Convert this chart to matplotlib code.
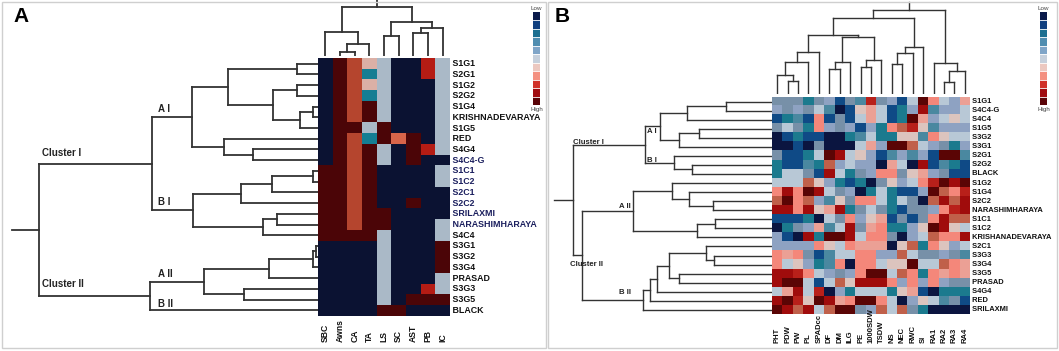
import numpy as np
import matplotlib
matplotlib.use("Agg")
import matplotlib.pyplot as plt
from matplotlib.colors import ListedColormap
from matplotlib.collections import LineCollection
from matplotlib.patches import Rectangle
import matplotlib.transforms as mtransforms

# ---------------- data: panel A (morphological traits) ----------------
a_rows = ["S1G1", "S2G1", "S1G2", "S2G2", "S1G4", "KRISHNADEVARAYA", "S1G5", "RED",
          "S4G4", "S4C4-G", "S1C1", "S1C2", "S2C1", "S2C2", "SRILAXMI", "NARASHIMHARAYA",
          "S4C4", "S3G1", "S3G2", "S3G4", "PRASAD", "S3G3", "S3G5", "BLACK"]
a_cols = ["SBC", "Awns", "CA", "TA", "LS", "SC", "AST", "PB", "IC"]
# n navy, d dark red, c brick, t teal, p pink, g grey-blue, r red, s salmon
a_cells = ["ndcpgnnrg", "ndctgnnrg", "ndcpgnnng", "ndctgnnng", "ndcdgnnng", "ndcdgnnng",
           "nddgdnnng", "ndctdsdng", "ndcdgndrg", "ndcdgndnn", "ddcdnnnng", "ddcdnnnng",
           "ddcdnnnnn", "ddcdnndnn", "ddcddnnnn", "ddcddnnng", "ddddgnnng", "nnnngnnnd",
           "nnnngnnnd", "nnnngnnnd", "nnnngnnng", "nnnngnnrg", "nnnngnddd", "nnnnddnnn"]
a_codes = "ndctpgrs"
a_palette = ["#0b1232", "#4b0507", "#b5452e", "#157e93", "#dbb0a6", "#aab9c7", "#b51c14", "#d8654a"]

# merge trees: (left, right, distance)
a_col_tree = (("SBC", (("Awns", "CA", 3.6), "TA", 12), 24),
              (("LS", "SC", 20.5), (("AST", "PB", 23), "IC", 28), 34), 49)
a_clusterI = (((("S1G1", "S2G1", 21.3),
                (("S1G2", "S2G2", 21.3), (("S1G4", "KRISHNADEVARAYA", 4.7), "S1G5", 18), 44.7), 89.7),
               ("RED", ("S4G4", "S4C4-G", 64.7), 94), 126.3),
              (((("S1C1", "S1C2", 4.7), "S2C1", 46.3), "S2C2", 77.3),
               (("SRILAXMI", "NARASHIMHARAYA", 41.3), "S4C4", 54.7), 125.3), 166.3)
a_clusterII = ((((("S3G1", "S3G2", 2), "S3G4", 5), "PRASAD", 48.7), ("S3G3", "S3G5", 73.7), 114),
               "BLACK", 168)
a_row_tree = (a_clusterI, a_clusterII, 278.7)
a_root_stub = 306

# ---------------- data: panel B (physiological traits) ----------------
b_rows = ["S1G1", "S4C4-G", "S4C4", "S1G5", "S3G2", "S3G1", "S2G1", "S2G2", "BLACK", "S1G2",
          "S1G4", "S2C2", "NARASHIMHARAYA", "S1C1", "S1C2", "KRISHANADEVARAYA", "S2C1", "S3G3",
          "S3G4", "S3G5", "PRASAD", "S4G4", "RED", "SRILAXMI"]
b_cols = ["PHT", "PDW", "PW", "PL", "SPADcc", "DF", "DM", "ILG", "PE", "1000SDW", "TSDW",
          "NS", "NEC", "RWC", "SI", "RA1", "RA2", "RA3", "RA4"]
# levels 0 (low) .. 13 (high)
b_values = [
    [4, 4, 4, 2, 4, 5, 1, 4, 3, 11, 4, 5, 1, 6, 13, 9, 6, 5, 8],
    [5, 4, 5, 4, 6, 3, 0, 1, 7, 8, 6, 1, 2, 5, 12, 3, 5, 5, 6],
    [1, 2, 3, 1, 9, 1, 4, 1, 6, 8, 6, 1, 2, 13, 8, 5, 6, 7, 6],
    [4, 6, 4, 2, 9, 5, 4, 5, 1, 5, 2, 9, 10, 11, 7, 3, 5, 5, 5],
    [0, 1, 2, 1, 1, 0, 0, 2, 3, 6, 2, 2, 7, 7, 3, 9, 7, 6, 6],
    [0, 0, 1, 0, 4, 0, 0, 0, 6, 8, 5, 13, 13, 10, 6, 5, 4, 2, 5],
    [4, 1, 1, 2, 6, 13, 12, 6, 7, 5, 1, 3, 5, 3, 5, 1, 13, 13, 3],
    [2, 1, 1, 3, 2, 10, 5, 6, 5, 5, 0, 8, 6, 0, 12, 1, 3, 2, 1],
    [2, 6, 6, 4, 1, 12, 6, 2, 4, 5, 9, 9, 4, 7, 8, 5, 4, 1, 1],
    [6, 6, 6, 10, 7, 5, 2, 1, 2, 0, 4, 7, 5, 6, 9, 11, 13, 12, 13],
    [9, 12, 9, 13, 12, 6, 4, 5, 0, 2, 6, 2, 1, 1, 5, 13, 10, 9, 11],
    [10, 13, 9, 10, 5, 3, 7, 4, 9, 9, 6, 2, 6, 4, 0, 10, 12, 10, 12],
    [12, 12, 9, 12, 7, 8, 12, 2, 4, 6, 4, 2, 1, 4, 4, 5, 9, 11, 12],
    [1, 1, 1, 2, 0, 6, 4, 9, 5, 7, 8, 1, 4, 1, 4, 9, 12, 10, 10],
    [0, 2, 4, 5, 8, 3, 6, 12, 4, 8, 9, 2, 2, 5, 7, 13, 12, 7, 6],
    [5, 1, 0, 12, 2, 13, 13, 12, 6, 9, 9, 4, 0, 5, 6, 10, 9, 9, 12],
    [5, 5, 5, 5, 9, 7, 6, 9, 8, 8, 8, 0, 7, 10, 2, 9, 7, 5, 6],
    [9, 8, 9, 4, 1, 3, 6, 6, 9, 9, 5, 5, 10, 6, 4, 4, 5, 4, 3],
    [9, 6, 7, 5, 2, 3, 9, 0, 9, 9, 6, 7, 7, 13, 6, 6, 10, 9, 8],
    [12, 12, 11, 9, 6, 5, 4, 5, 9, 13, 13, 6, 10, 9, 2, 9, 8, 9, 8],
    [12, 13, 13, 6, 1, 6, 10, 7, 12, 12, 12, 9, 5, 9, 5, 9, 5, 4, 4],
    [6, 8, 12, 6, 11, 0, 5, 2, 6, 6, 6, 2, 7, 8, 1, 0, 2, 2, 2],
    [12, 13, 11, 7, 13, 12, 8, 9, 13, 13, 9, 6, 0, 5, 7, 6, 3, 4, 1],
    [13, 12, 10, 12, 6, 10, 13, 13, 4, 5, 10, 6, 10, 4, 2, 0, 0, 0, 0],
]
b_palette = ["#0b1540", "#0f4a86", "#1b7a8e", "#4a88a0", "#7790a8", "#8ea2c2", "#b8c8d6",
             "#dcc4be", "#eba095", "#f4877a", "#c0604a", "#b8201a", "#a00c0c", "#5a0505"]

b_col_tree = ((((("PHT", ("PDW", "PW", 13), 19), "PL", 32.3), "SPADcc", 42.3),
               ((("DF", "DM", 25), "ILG", 32.3), (("PE", "1000SDW", 27.3), "TSDW", 34), 56.7), 59),
              ((("NS", "NEC", 30), "RWC", 40.7), "SI", 47.3), 75.7)
b_col_tree = (b_col_tree, ("RA1", (("RA2", "RA3", 12.3), "RA4", 23.3), 31.3), 84)
b_clusterI = (((("S1G1", "S4C4-G", 46), "S4C4", 84.8), (("S1G5", "S3G2", 73), "S3G1", 93.3), 112),
              ("S2G1", ("S2G2", "BLACK", 79.7), 98.3), 127)
b_clusterII = ((("S1G2", ("S1G4", ("S2C2", "NARASHIMHARAYA", 59.4), 83), 100),
                (("S1C1", "S1C2", 57), "KRISHANADEVARAYA", 75), 139),
               ((((("S2C1", ("S3G3", "S3G4", 58), 66), ("S3G5", "PRASAD", 93), 103), "S4G4", 115),
                 "RED", 122), "SRILAXMI", 128.7), 189.6)
b_row_tree = (b_clusterI, b_clusterII, 198.7)
b_root_stub = 218.3

scale_colors = ["#0a1a4a", "#0f3f7f", "#1c6f90", "#4f8db0", "#7fa5c8", "#c6d0dc",
                "#ecc8c0", "#f49080", "#d03028", "#a00c10", "#5a0408"]

# ---------------- helpers ----------------
W, H = 1059, 351
LINE = "#333333"
plt.rcParams["font.family"] = ["Liberation Sans", "DejaVu Sans"]

fig = plt.figure(figsize=(W / 100, H / 100), dpi=100)


def px_axes(x0, y0, x1, y1):
    ax = fig.add_axes([x0 / W, 1 - y1 / H, (x1 - x0) / W, (y1 - y0) / H])
    ax.set_axis_off()
    return ax


def ftext(x, y, s, **kw):
    fig.text(x / W, 1 - y / H, s, **kw)


def tree_segments(node, order):
    # returns leaf-axis position, height, list of segments (pos, height)
    if isinstance(node, str):
        return order.index(node), 0.0, []
    left, right, h = node
    pa, ha, sa = tree_segments(left, order)
    pb, hb, sb = tree_segments(right, order)
    segs = sa + sb + [[(pa, ha), (pa, h)], [(pa, h), (pb, h)], [(pb, h), (pb, hb)]]
    return (pa + pb) / 2, h, segs


def draw_row_dendro(ax, tree, order, stub, lw):
    pos, h, segs = tree_segments(tree, order)
    segs.append([(pos, h), (pos, stub)])
    segs = [[(b, a) for a, b in s] for s in segs]
    ax.add_collection(LineCollection(segs, colors=LINE, linewidths=lw, capstyle="projecting"))
    ax.set_ylim(len(order) - 0.5, -0.5)


def draw_col_dendro(ax, tree, order, stub, lw):
    pos, h, segs = tree_segments(tree, order)
    segs.append([(pos, h), (pos, stub)])
    ax.add_collection(LineCollection(segs, colors=LINE, linewidths=lw, capstyle="projecting"))
    ax.set_xlim(-0.5, len(order) - 0.5)


def draw_scale(x0, x1, y0, y1):
    ax = px_axes(x0, y0, x1, y1)
    ax.imshow(np.arange(len(scale_colors)).reshape(-1, 1), cmap=ListedColormap(scale_colors),
              aspect="auto", interpolation="nearest")
    for k in range(len(scale_colors) - 1):
        ax.axhline(k + 0.5, color="white", lw=0.6)
    ftext((x0 + x1) / 2, y0 - 4, "Low", fontsize=4.5, ha="center", va="center", color="#444444")
    ftext((x0 + x1) / 2, y1 + 4, "High", fontsize=4.5, ha="center", va="center", color="#444444")


# panel frames
for x0, x1 in [(2, 546), (548, 1057)]:
    fig.patches.append(Rectangle((x0 / W, 1 - 348 / H), (x1 - x0) / W, 346 / H,
                                 transform=fig.transFigure, fill=False, ec="#cfcfcf", lw=1))

# ---------------- panel A ----------------
hA = px_axes(318, 58.3, 450, 315.7)
a_idx = np.array([[a_codes.index(c) for c in row] for row in a_cells])
hA.imshow(a_idx, cmap=ListedColormap(a_palette), vmin=-0.5, vmax=len(a_palette) - 0.5,
          aspect="auto", interpolation="nearest")
for i, name in enumerate(a_rows):
    col = "#1b1f5e" if 9 <= i <= 15 else "#111111"
    hA.text(1.0, 1 - (i + 0.5) / len(a_rows), " " + name, transform=hA.transAxes,
            fontsize=6.4, fontweight="bold", color=col, va="center", ha="left", clip_on=False)
trA_col = mtransforms.blended_transform_factory(hA.transData, fig.transFigure)
for j, name in enumerate(a_cols):
    hA.text(j, 1 - 342 / H, name, transform=trA_col, rotation=90, fontsize=6.2,
            fontweight="bold", ha="center", va="bottom", color="#111111")

dA = px_axes(0, 58.3, 318, 315.7)
draw_row_dendro(dA, a_row_tree, a_rows, a_root_stub, 1.3)
dA.set_xlim(318, 0)

tA = px_axes(318, 0, 450, 56)
draw_col_dendro(tA, a_col_tree, a_cols, 56, 1.3)
tA.set_ylim(0, 56)

for s, x, y in [("A I", 158, 109.5), ("B I", 158, 202), ("Cluster I", 41.5, 153),
                ("Cluster II", 41.5, 284), ("A II", 158, 274), ("B II", 158, 304)]:
    ftext(x, y, s, fontsize=7, fontweight="bold", ha="left", va="center", color="#222222")
ftext(13, 17, "A", fontsize=15, fontweight="bold", ha="left", va="center")
draw_scale(533, 540, 12, 105)

# ---------------- panel B ----------------
hB = px_axes(772, 97, 970, 314.4)
hB.imshow(np.array(b_values), cmap=ListedColormap(b_palette), vmin=-0.5,
          vmax=len(b_palette) - 0.5, aspect="auto", interpolation="nearest")
for i, name in enumerate(b_rows):
    hB.text(1.0, 1 - (i + 0.5) / len(b_rows), " " + name, transform=hB.transAxes,
            fontsize=5.4, fontweight="bold", color="#111111", va="center", ha="left",
            clip_on=False)
trB_col = mtransforms.blended_transform_factory(hB.transData, fig.transFigure)
for j, name in enumerate(b_cols):
    hB.text(j, 1 - 343 / H, name, transform=trB_col, rotation=90, fontsize=5.5,
            fontweight="bold", ha="center", va="bottom", color="#111111")

dB = px_axes(548, 97, 772, 314.4)
draw_row_dendro(dB, b_row_tree, b_rows, b_root_stub, 1.0)
dB.set_xlim(224, 0)

tB = px_axes(772, 0, 970, 94)
draw_col_dendro(tB, b_col_tree, b_cols, 92.3, 1.0)
tB.set_ylim(0, 94)

for s, x, y in [("A I", 646.6, 131.5), ("B I", 646.6, 160), ("Cluster I", 573.3, 142),
                ("Cluster II", 570, 265), ("A II", 618.6, 207), ("B II", 618.6, 293)]:
    ftext(x, y, s, fontsize=5.6, fontweight="bold", ha="left", va="center", color="#222222")
ftext(555, 16, "B", fontsize=15, fontweight="bold", ha="left", va="center")
draw_scale(1040, 1047, 12, 105)

fig.savefig("out.png", dpi=100)
